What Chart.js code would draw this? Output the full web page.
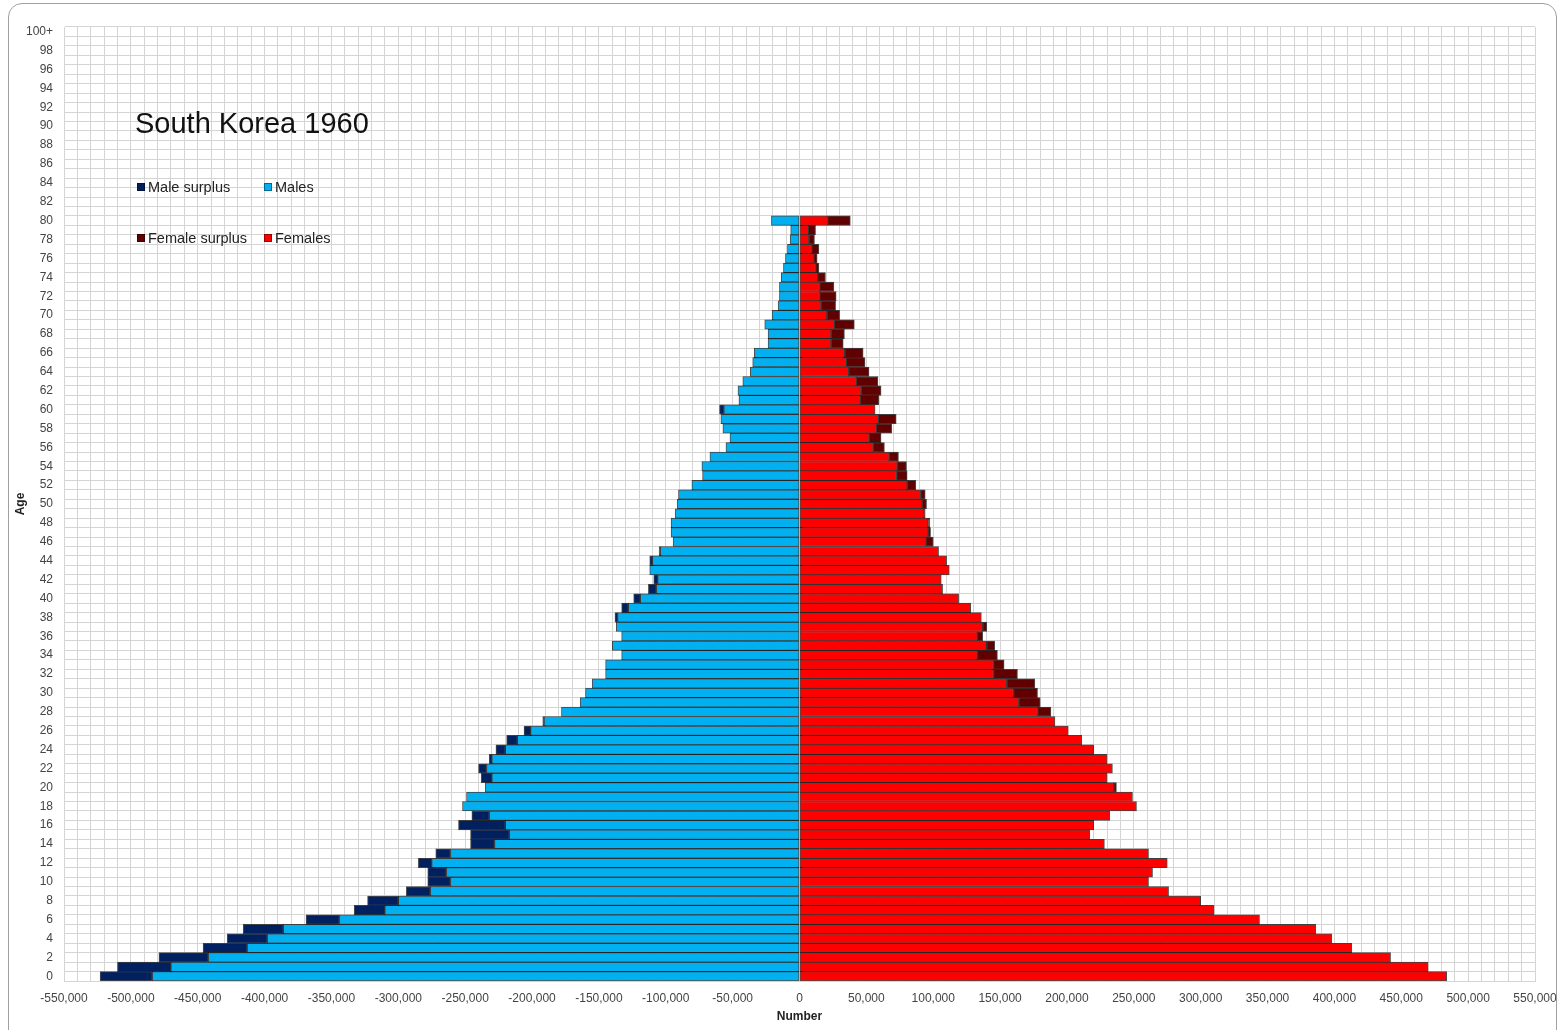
<!DOCTYPE html>
<html>
<head>
<meta charset="utf-8">
<script src="https://cdn.jsdelivr.net/npm/chart.js@4.4.1/dist/chart.umd.min.js"></script>
<style>
  body { margin: 0; background: #fff; }
  #frame { position: absolute; left: 8px; top: 3px; width: 1547px; height: 1045px;
           border: 1px solid #a0a0a0; border-radius: 14px; }
  #chart { position: absolute; left: 0; top: 0; }
  .title { position: absolute; left: 135px; top: 109px; font: 29px "Liberation Sans", Arial, sans-serif;
           line-height: 29px; color: #111; white-space: nowrap; }
  .leg { position: absolute; font: 14.5px "Liberation Sans", Arial, sans-serif; line-height: 14px;
         color: #222; white-space: nowrap; }
  .sw { display: inline-block; width: 6px; height: 6px; margin-right: 3px; vertical-align: 1px;
        border: 1px solid rgba(0,0,0,0.4); }
</style>
</head>
<body>
<div id="frame"></div>
<canvas id="chart" width="1560" height="1030"></canvas>
<div class="title">South Korea 1960</div>
<div class="leg" style="left:137px; top:180px"><span class="sw" style="background:#002060"></span>Male surplus</div>
<div class="leg" style="left:264px; top:180px"><span class="sw" style="background:#00b0f0"></span>Males</div>
<div class="leg" style="left:137px; top:231px"><span class="sw" style="background:#600000"></span>Female surplus</div>
<div class="leg" style="left:264px; top:231px"><span class="sw" style="background:#ff0000"></span>Females</div>
<script>
// age groups, 0 .. 99 and 100+
const ages = Array.from({ length: 100 }, (_, i) => String(i)).concat("100+");

// population by single year of age, 0 .. 80 (nothing shown above 80)
const males = [
  523000, 510000, 479000, 446000, 428000, 416000, 369000, 333000, 323000, 294000,
  278000, 278000, 285000, 272000, 246000, 246000, 255000, 245000, 252000, 249000,
  235000, 238000, 240000, 232000, 227000, 219000, 206000, 192000, 178000, 164000,
  160000, 155000, 145000, 145000, 133000, 140000, 133000, 137000, 138000, 133000,
  124000, 113000, 109000, 112000, 112000, 105000, 94500, 96000, 96000, 93000,
  91500, 90500, 80500, 72500, 73000, 67000, 55000, 52000, 57300, 58800,
  59800, 45300, 46000, 42400, 36800, 35000, 33800, 23500, 23500, 26000,
  20500, 16000, 15000, 15000, 13600, 12000, 10500, 9000, 7000, 6600,
  21000,
];
const females = [
  484000, 470000, 442000, 413000, 398000, 386000, 344000, 310000, 300000, 276000,
  261000, 264000, 275000, 261000, 228000, 217000, 220000, 232000, 252000, 249000,
  237000, 230000, 234000, 230000, 220000, 211000, 201000, 191000, 188000, 180000,
  178000, 176000, 163000, 153000, 148000, 146000, 137000, 140000, 136000, 128000,
  119000, 107000, 106000, 112000, 110000, 104000, 100000, 98000, 97500, 94000,
  95000, 94000, 87000, 80500, 80000, 74000, 63500, 61000, 69000, 72300,
  56500, 59300, 61000, 58600, 52000, 49000, 47600, 32700, 33600, 41000,
  30000, 27000, 27400, 25700, 19400, 14500, 13200, 14500, 11200, 12000,
  38000,
];

const pick = (i, f) => (i < males.length ? f(males[i], females[i]) : null);
const nz = (v) => (v > 0 ? v : null);

const maleBase = ages.map((_, i) => pick(i, (m, f) => -Math.min(m, f)));
const maleSurplus = ages.map((_, i) => pick(i, (m, f) => nz(m - f) && -(m - f)));
const femaleBase = ages.map((_, i) => pick(i, (m, f) => Math.min(m, f)));
const femaleSurplus = ages.map((_, i) => pick(i, (m, f) => nz(f - m)));

const gridColor = "#d4d4d4";
const font = { family: "'Liberation Sans', Arial, sans-serif", size: 12 };

const bar = (label, data, color) => ({
  label, data,
  backgroundColor: color,
  borderColor: "rgba(0,0,0,0.7)",
  borderWidth: 1,
  borderSkipped: false,
  barPercentage: 1,
  categoryPercentage: 1,
});

new Chart(document.getElementById("chart"), {
  type: "bar",
  data: {
    labels: ages,
    datasets: [
      bar("Males", maleBase, "#00b0f0"),
      bar("Male surplus", maleSurplus, "#002060"),
      bar("Females", femaleBase, "#ff0000"),
      bar("Female surplus", femaleSurplus, "#600000"),
    ],
  },
  options: {
    indexAxis: "y",
    responsive: false,
    animation: false,
    events: [],
    layout: { padding: { top: 27, right: 25, left: 0, bottom: 0 } },
    plugins: { legend: { display: false }, tooltip: { enabled: false } },
    scales: {
      x: {
        stacked: true,
        min: -550000,
        max: 550000,
        afterFit: (s) => { s.height = 49; s.paddingLeft = 0; s.paddingRight = 0; },
        ticks: {
          stepSize: 10000,
          autoSkip: false,
          maxRotation: 0,
          padding: 10,
          color: "#444",
          font,
          callback: (v) => (v % 50000 === 0 ? Number(v).toLocaleString("en-US") : ""),
        },
        grid: { color: gridColor, drawTicks: false },
        border: { color: gridColor },
        title: { display: true, text: "Number", color: "#222",
                 font: { ...font, weight: "bold" }, padding: { top: 0, bottom: 6 } },
      },
      y: {
        stacked: true,
        reverse: true,
        afterFit: (s) => { s.width = 64; },
        ticks: {
          autoSkip: false,
          padding: 11,
          color: "#444",
          font,
          callback: (v, i) => (i % 2 === 0 ? ages[i] : ""),
        },
        grid: { color: gridColor, drawTicks: false },
        border: { color: gridColor },
        title: { display: true, text: "Age", color: "#222",
                 font: { ...font, weight: "bold" }, padding: { top: 13, bottom: 0 } },
      },
    },
  },
});
</script>
</body>
</html>
